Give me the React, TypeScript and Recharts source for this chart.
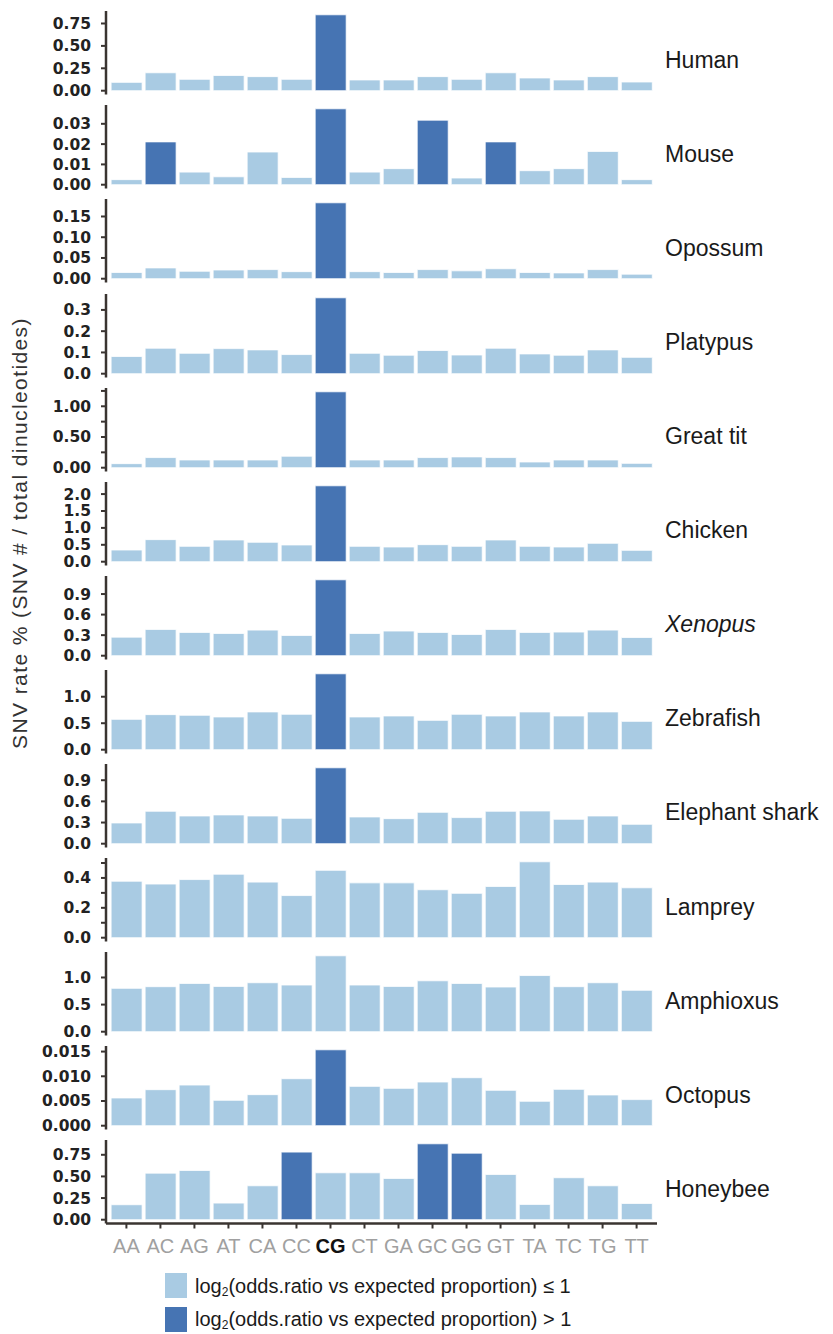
import React from 'react';
import { BarChart, Bar, XAxis, YAxis, Cell } from 'recharts';

const dinucleotides = ['AA', 'AC', 'AG', 'AT', 'CA', 'CC', 'CG', 'CT', 'GA', 'GC', 'GG', 'GT', 'TA', 'TC', 'TG', 'TT'];

const humanRates = [0.093, 0.2, 0.127, 0.17, 0.157, 0.127, 0.847, 0.12, 0.12, 0.157, 0.127, 0.2, 0.142, 0.12, 0.157, 0.097];
const mouseRates = [0.0025, 0.0211, 0.0062, 0.0039, 0.0161, 0.0036, 0.0374, 0.0062, 0.0079, 0.0318, 0.0033, 0.0211, 0.0069, 0.0079, 0.0164, 0.0025];
const opossumRates = [0.015, 0.026, 0.018, 0.021, 0.022, 0.017, 0.183, 0.017, 0.015, 0.022, 0.019, 0.024, 0.015, 0.014, 0.022, 0.011];
const platypusRates = [0.081, 0.12, 0.096, 0.118, 0.112, 0.09, 0.357, 0.096, 0.087, 0.109, 0.088, 0.12, 0.093, 0.087, 0.112, 0.077];
const greatTitRates = [0.066, 0.165, 0.126, 0.126, 0.126, 0.187, 1.236, 0.126, 0.126, 0.165, 0.176, 0.165, 0.093, 0.126, 0.126, 0.071];
const chickenRates = [0.346, 0.653, 0.455, 0.643, 0.574, 0.495, 2.245, 0.455, 0.435, 0.504, 0.455, 0.643, 0.455, 0.435, 0.544, 0.336];
const xenopusRates = [0.271, 0.384, 0.34, 0.325, 0.374, 0.296, 1.108, 0.325, 0.36, 0.34, 0.31, 0.384, 0.34, 0.345, 0.374, 0.266];
const zebrafishRates = [0.573, 0.662, 0.65, 0.618, 0.713, 0.669, 1.433, 0.618, 0.637, 0.554, 0.669, 0.637, 0.713, 0.637, 0.713, 0.535];
const elephantSharkRates = [0.294, 0.46, 0.393, 0.408, 0.393, 0.36, 1.076, 0.379, 0.355, 0.445, 0.37, 0.46, 0.464, 0.346, 0.393, 0.275];
const lampreyRates = [0.378, 0.359, 0.389, 0.425, 0.372, 0.282, 0.451, 0.367, 0.367, 0.321, 0.297, 0.343, 0.508, 0.356, 0.372, 0.334];
const amphioxusRates = [0.8, 0.83, 0.891, 0.836, 0.903, 0.861, 1.4, 0.861, 0.836, 0.939, 0.891, 0.824, 1.036, 0.83, 0.903, 0.764];
const octopusRates = [0.00561, 0.00729, 0.00823, 0.00514, 0.00628, 0.00951, 0.01536, 0.00796, 0.00756, 0.00884, 0.00971, 0.00716, 0.00494, 0.00736, 0.00622, 0.00528];
const honeybeeRates = [0.173, 0.538, 0.569, 0.192, 0.392, 0.781, 0.542, 0.542, 0.477, 0.877, 0.769, 0.523, 0.177, 0.485, 0.392, 0.188];

// dinucleotides with log2(odds.ratio vs expected proportion) > 1
const humanHigh = ['CG'];
const mouseHigh = ['AC', 'CG', 'GC', 'GT'];
const opossumHigh = ['CG'];
const platypusHigh = ['CG'];
const greatTitHigh = ['CG'];
const chickenHigh = ['CG'];
const xenopusHigh = ['CG'];
const zebrafishHigh = ['CG'];
const elephantSharkHigh = ['CG'];
const lampreyHigh: string[] = [];
const amphioxusHigh: string[] = [];
const octopusHigh = ['CG'];
const honeybeeHigh = ['CC', 'GC', 'GG'];

const humanTicks = [0, 0.25, 0.5, 0.75];
const humanTickLabels = ['0.00', '0.25', '0.50', '0.75'];
const mouseTicks = [0, 0.01, 0.02, 0.03];
const mouseTickLabels = ['0.00', '0.01', '0.02', '0.03'];
const opossumTicks = [0, 0.05, 0.1, 0.15];
const opossumTickLabels = ['0.00', '0.05', '0.10', '0.15'];
const platypusTicks = [0, 0.1, 0.2, 0.3];
const platypusTickLabels = ['0.0', '0.1', '0.2', '0.3'];
const greatTitTicks = [0, 0.25, 0.5, 0.75, 1.0, 1.25];
const greatTitTickLabels = ['0.00', '', '0.50', '', '1.00', ''];
const chickenTicks = [0, 0.5, 1.0, 1.5, 2.0];
const chickenTickLabels = ['0.0', '0.5', '1.0', '1.5', '2.0'];
const xenopusTicks = [0, 0.3, 0.6, 0.9];
const xenopusTickLabels = ['0.0', '0.3', '0.6', '0.9'];
const zebrafishTicks = [0, 0.5, 1.0];
const zebrafishTickLabels = ['0.0', '0.5', '1.0'];
const elephantSharkTicks = [0, 0.3, 0.6, 0.9];
const elephantSharkTickLabels = ['0.0', '0.3', '0.6', '0.9'];
const lampreyTicks = [0, 0.1, 0.2, 0.3, 0.4, 0.5];
const lampreyTickLabels = ['0.0', '', '0.2', '', '0.4', ''];
const amphioxusTicks = [0, 0.5, 1.0];
const amphioxusTickLabels = ['0.0', '0.5', '1.0'];
const octopusTicks = [0, 0.005, 0.01, 0.015];
const octopusTickLabels = ['0.000', '0.005', '0.010', '0.015'];
const honeybeeTicks = [0, 0.25, 0.5, 0.75];
const honeybeeTickLabels = ['0.00', '0.25', '0.50', '0.75'];

const speciesNames = ['Human', 'Mouse', 'Opossum', 'Platypus', 'Great tit', 'Chicken', 'Xenopus', 'Zebrafish', 'Elephant shark', 'Lamprey', 'Amphioxus', 'Octopus', 'Honeybee'];

const yAxisTitle = 'SNV rate % (SNV # / total dinucleotides)';
const legendLow = '(odds.ratio vs expected proportion) \u2264 1';
const legendHigh = '(odds.ratio vs expected proportion) > 1';

const LIGHT = '#a9cbe3';
const DARK = '#4674b3';
const AXIS = '#3a3431';

const FIRST_TOP = 11.3;
const STRIDE = 94.08;
const PLOT_H = 83.5;
const MT = 5;
const MB = 5;
const PLOT_RIGHT = 657;
const Y_W = 106;
const PAD = 3.4;
const X_H = 36;

const panels = [
  { name: speciesNames[0], values: humanRates, high: humanHigh, ticks: humanTicks, labels: humanTickLabels },
  { name: speciesNames[1], values: mouseRates, high: mouseHigh, ticks: mouseTicks, labels: mouseTickLabels },
  { name: speciesNames[2], values: opossumRates, high: opossumHigh, ticks: opossumTicks, labels: opossumTickLabels },
  { name: speciesNames[3], values: platypusRates, high: platypusHigh, ticks: platypusTicks, labels: platypusTickLabels },
  { name: speciesNames[4], values: greatTitRates, high: greatTitHigh, ticks: greatTitTicks, labels: greatTitTickLabels },
  { name: speciesNames[5], values: chickenRates, high: chickenHigh, ticks: chickenTicks, labels: chickenTickLabels },
  { name: speciesNames[6], values: xenopusRates, high: xenopusHigh, ticks: xenopusTicks, labels: xenopusTickLabels, italic: true },
  { name: speciesNames[7], values: zebrafishRates, high: zebrafishHigh, ticks: zebrafishTicks, labels: zebrafishTickLabels },
  { name: speciesNames[8], values: elephantSharkRates, high: elephantSharkHigh, ticks: elephantSharkTicks, labels: elephantSharkTickLabels },
  { name: speciesNames[9], values: lampreyRates, high: lampreyHigh, ticks: lampreyTicks, labels: lampreyTickLabels },
  { name: speciesNames[10], values: amphioxusRates, high: amphioxusHigh, ticks: amphioxusTicks, labels: amphioxusTickLabels },
  { name: speciesNames[11], values: octopusRates, high: octopusHigh, ticks: octopusTicks, labels: octopusTickLabels },
  { name: speciesNames[12], values: honeybeeRates, high: honeybeeHigh, ticks: honeybeeTicks, labels: honeybeeTickLabels },
];

const XTick = (props: any) => {
  const { x, y, payload } = props;
  const isCG = payload.value === 'CG';
  return (
    <text
      x={x}
      y={y}
      dy={22}
      textAnchor="middle"
      fontFamily="'Liberation Sans', Arial, sans-serif"
      fontSize={20}
      fontWeight={isCG ? 'bold' : 'normal'}
      fill={isCG ? '#111111' : '#a0a0a0'}
    >
      {payload.value}
    </text>
  );
};

function Panel(props: any) {
  const { name, values, high, ticks, labels, italic, index, showX } = props;
  const rows = dinucleotides.map((d, i) => ({ dinucleotide: d, rate: values[i], high: high.includes(d) }));
  const maxV = Math.max(...values);
  const domain = [-0.05 * maxV, 1.05 * maxV];
  const plotTop = FIRST_TOP + index * STRIDE;
  const h = MT + PLOT_H + (showX ? X_H : MB);
  const fmt = (v: number) => {
    const k = ticks.findIndex((t: number) => Math.abs(t - v) < 1e-9);
    return k >= 0 ? labels[k] : '';
  };
  return (
    <div style={{ position: 'absolute', left: 0, top: plotTop - MT, width: 833, height: h }}>
      <BarChart
        width={PLOT_RIGHT}
        height={h}
        data={rows}
        margin={{ top: MT, right: 0, bottom: showX ? 0 : MB, left: 0 }}
        barCategoryGap="5%"
      >
        <XAxis
          dataKey="dinucleotide"
          type="category"
          hide={!showX}
          height={X_H}
          padding={{ left: PAD, right: PAD }}
          interval={0}
          axisLine={{ stroke: AXIS, strokeWidth: 2.5 }}
          tickLine={{ stroke: AXIS, strokeWidth: 2 }}
          tickSize={5}
          tick={<XTick />}
        />
        <YAxis
          type="number"
          domain={domain}
          allowDataOverflow
          ticks={ticks}
          interval={0}
          tickFormatter={fmt}
          width={Y_W}
          axisLine={{ stroke: AXIS, strokeWidth: 2.5 }}
          tickLine={{ stroke: AXIS, strokeWidth: 2 }}
          tickSize={5}
          tickMargin={10}
          tick={{ fill: '#222222', fontSize: 15.5, fontFamily: "'DejaVu Sans', sans-serif", fontWeight: 'bold' }}
        />
        <Bar dataKey="rate" isAnimationActive={false} stroke="#ffffff" strokeWidth={0.8}>
          {rows.map((r) => (
            <Cell key={r.dinucleotide} fill={r.high ? DARK : LIGHT} />
          ))}
        </Bar>
      </BarChart>
      <div
        style={{
          position: 'absolute',
          left: 665,
          top: MT + 48.7 - 11.2,
          fontFamily: "'Liberation Sans', Arial, sans-serif",
          fontSize: 23,
          lineHeight: 1,
          color: '#1a1a1a',
          fontStyle: italic ? 'italic' : 'normal',
          whiteSpace: 'nowrap',
        }}
      >
        {name}
      </div>
    </div>
  );
}

export default function App() {
  return (
    <div style={{ position: 'absolute', left: 0, top: 0, width: 833, height: 1334, background: '#ffffff', overflow: 'hidden' }}>
      {panels.map((p, i) => (
        <Panel key={p.name} {...p} index={i} showX={i === panels.length - 1} />
      ))}
      <svg width={833} height={1334} style={{ position: 'absolute', left: 0, top: 0, pointerEvents: 'none' }}>
        <text
          x={0}
          y={0}
          transform="translate(19, 533) rotate(-90)"
          textAnchor="middle"
          dominantBaseline="central"
          fontFamily="'Liberation Sans', Arial, sans-serif"
          fontSize={21}
          letterSpacing={1.4}
          fill="#333333"
        >
          {yAxisTitle}
        </text>
        <rect x={165} y={1273} width={22} height={25} fill={LIGHT} />
        <rect x={165} y={1307} width={22} height={25} fill={DARK} />
        <text x={195} y={1293} fontFamily="'Liberation Sans', Arial, sans-serif" fontSize={20} fill="#1a1a1a">
          log<tspan fontSize={12} dy={3}>2</tspan>
          <tspan dy={-3}>{legendLow}</tspan>
        </text>
        <text x={195} y={1326} fontFamily="'Liberation Sans', Arial, sans-serif" fontSize={20} fill="#1a1a1a">
          log<tspan fontSize={12} dy={3}>2</tspan>
          <tspan dy={-3}>{legendHigh}</tspan>
        </text>
      </svg>
    </div>
  );
}
